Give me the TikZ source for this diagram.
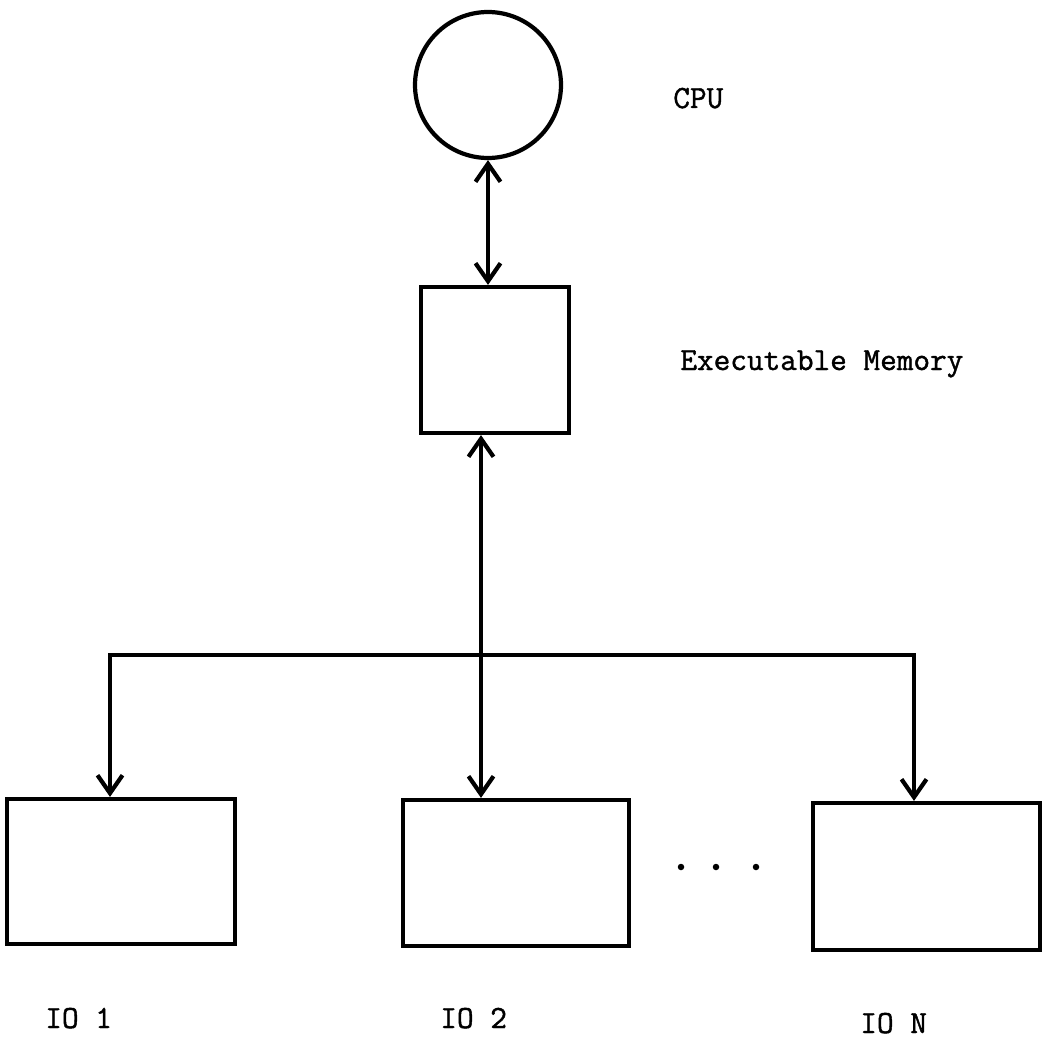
\documentclass[tikz,border=0pt]{standalone}
\usepackage{fontspec}
\newfontfamily\twfont[FakeBold=1.3]{Latin Modern Mono}
\usetikzlibrary{arrows.meta,positioning}

\begin{document}
\begin{tikzpicture}[
    x=0.02cm, y=-0.02cm,
    every node/.style={font=\twfont\fontsize{18.4}{20}\selectfont},
    blk/.style={draw,line width=2.4pt,inner sep=0pt},
    cpu/.style={draw,circle,line width=2.4pt,minimum size=2.92cm,inner sep=0pt},
    line/.style={-{Straight Barb[length=3.6mm,width=5mm]},line width=2.4pt},
    dline/.style={{Straight Barb[length=3.6mm,width=5mm]}-{Straight Barb[length=3.6mm,width=5mm]},line width=2.4pt},
    lbl/.style={anchor=base west,inner sep=0pt},
    dot/.style={circle,fill,inner sep=0pt,minimum size=0.13cm}
]
\useasboundingbox[fill=white] (0,0) rectangle (1045,1054);

% Processor and memory
\node[cpu] (CPU) at (488,85) {};
\node[blk,minimum width=2.96cm,minimum height=2.92cm] (MEM) at (495,360) {};
\node[lbl] (CPUlbl) at (673,108) {CPU};
\node[lbl] (MEMlbl) at (680,370) {Executable Memory};
\draw[dline] (CPU.south) -- (CPU.south |- MEM.north);

% IO units
\node[blk,minimum width=4.56cm,minimum height=2.9cm] (IO1) at (121,871.5) {};
\node[blk,minimum width=4.52cm,minimum height=2.92cm] (IO2) at (516,873) {};
\node[blk,minimum width=4.54cm,minimum height=2.94cm] (ION) at (926.5,876.5) {};
\node[lbl] (IO1lbl) at (45,1028) {IO 1};
\node[lbl] (IO2lbl) at (440,1028) {IO 2};
\node[lbl] (IONlbl) at (860,1033) {IO N};

% ellipsis between IO 2 and IO N
\node[dot] (D1) at (681,867) {};
\node[dot] (D2) at (716,867) {};
\node[dot] (D3) at (756,867) {};

% Bus
\coordinate (BJ) at (481,655);
\coordinate (BL) at (110,655);
\coordinate (BR) at (914,655);
\draw[line] (BJ) -- (BJ |- MEM.south);
\draw[line] (BJ) -- (BL) -- (BL |- IO1.north);
\draw[line] (BJ) -- (BR) -- (BR |- ION.north);
\draw[line] (BJ) -- (BJ |- IO2.north);

\end{tikzpicture}
\end{document}
